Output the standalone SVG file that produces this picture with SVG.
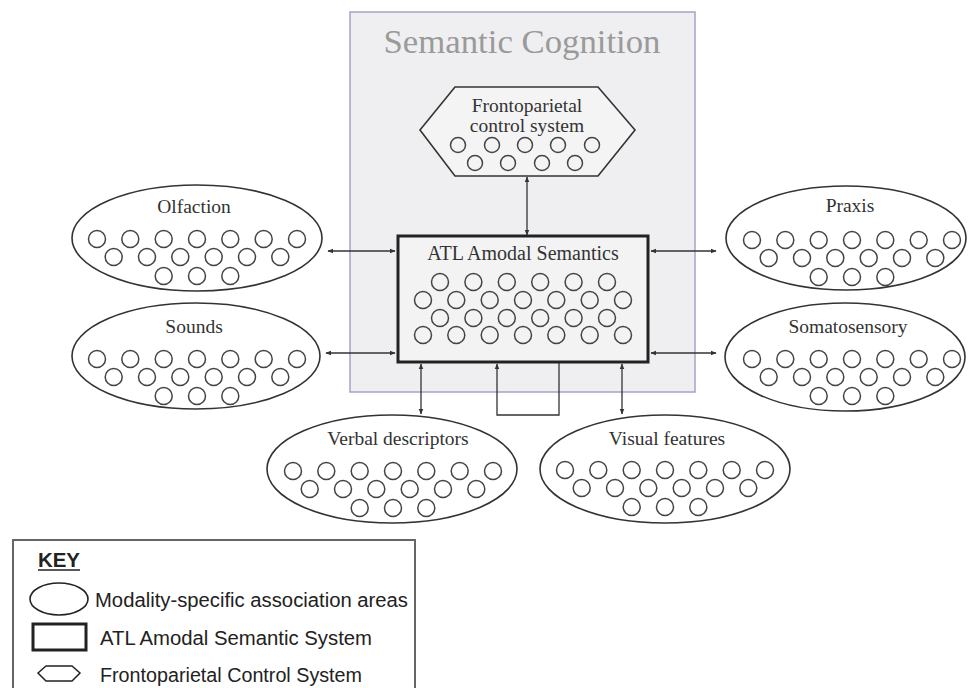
<svg xmlns="http://www.w3.org/2000/svg" width="968" height="688" viewBox="0 0 968 688">
<style>
.serif{font-family:"Liberation Serif","Times New Roman",serif;fill:#333;}
.lbl{font-size:19.5px;text-anchor:middle;}
.sans{font-family:"Liberation Sans",Arial,sans-serif;fill:#222;font-size:20px;}
.area{fill:#fff;stroke:#333;stroke-width:1.6;}
.c{fill:none;stroke:#444;stroke-width:1.5;}
.conn{stroke:#333;stroke-width:1.3;fill:none;}
</style>
<defs>
<marker id="ah" viewBox="0 0 10 10" refX="9" refY="5" markerWidth="6" markerHeight="6" orient="auto-start-reverse" markerUnits="userSpaceOnUse">
<path d="M0,1 L10,5 L0,9 z" fill="#333"/>
</marker>
<g id="pat">
<circle class="c" cx="0" cy="0" r="8.5"/><circle class="c" cx="33.3" cy="0" r="8.5"/><circle class="c" cx="66.7" cy="0" r="8.5"/><circle class="c" cx="100" cy="0" r="8.5"/><circle class="c" cx="133.3" cy="0" r="8.5"/><circle class="c" cx="166.7" cy="0" r="8.5"/><circle class="c" cx="200" cy="0" r="8.5"/>
<circle class="c" cx="16.7" cy="18" r="8.5"/><circle class="c" cx="50" cy="18" r="8.5"/><circle class="c" cx="83.3" cy="18" r="8.5"/><circle class="c" cx="116.7" cy="18" r="8.5"/><circle class="c" cx="150" cy="18" r="8.5"/><circle class="c" cx="183.3" cy="18" r="8.5"/>
<circle class="c" cx="66.7" cy="37" r="8.5"/><circle class="c" cx="100" cy="37" r="8.5"/><circle class="c" cx="133.3" cy="37" r="8.5"/>
</g>
<g id="row6">
<circle class="c" cx="0" cy="0" r="8.5"/><circle class="c" cx="33.4" cy="0" r="8.5"/><circle class="c" cx="66.8" cy="0" r="8.5"/><circle class="c" cx="100.2" cy="0" r="8.5"/><circle class="c" cx="133.6" cy="0" r="8.5"/><circle class="c" cx="167" cy="0" r="8.5"/>
</g>
<g id="row7">
<circle class="c" cx="0" cy="0" r="8.5"/><circle class="c" cx="33.3" cy="0" r="8.5"/><circle class="c" cx="66.7" cy="0" r="8.5"/><circle class="c" cx="100" cy="0" r="8.5"/><circle class="c" cx="133.3" cy="0" r="8.5"/><circle class="c" cx="166.7" cy="0" r="8.5"/><circle class="c" cx="200" cy="0" r="8.5"/>
</g>
</defs>
<rect width="968" height="688" fill="#fff"/>

<g id="semantic-cognition">
<rect x="350" y="12" width="345" height="380" fill="#efeff1" stroke="#a4a4c8" stroke-width="1.5"/>
<text class="serif" x="522" y="53" font-size="34" text-anchor="middle" fill="#9a9a9a" style="fill:#9a9a9a" textLength="277" lengthAdjust="spacingAndGlyphs">Semantic Cognition</text>
</g>

<g id="frontoparietal">
<polygon points="420,130 455,87 598,87 635,130 598,176 455,176" fill="#f4f4f5" stroke="#333" stroke-width="1.6"/>
<text class="serif lbl" x="527" y="112">Frontoparietal</text>
<text class="serif lbl" x="527" y="132">control system</text>
<circle class="c" cx="458" cy="145" r="7.5"/><circle class="c" cx="492" cy="145" r="7.5"/><circle class="c" cx="525" cy="145" r="7.5"/><circle class="c" cx="558" cy="145" r="7.5"/><circle class="c" cx="592" cy="145" r="7.5"/>
<circle class="c" cx="475" cy="163" r="7.5"/><circle class="c" cx="508" cy="163" r="7.5"/><circle class="c" cx="542" cy="163" r="7.5"/><circle class="c" cx="575" cy="163" r="7.5"/>
</g>

<g id="atl">
<rect x="398" y="236" width="250" height="126" fill="#f3f3f4" stroke="#222" stroke-width="3"/>
<text class="serif" x="523" y="260" font-size="20" text-anchor="middle">ATL Amodal Semantics</text>
<use href="#row6" x="440" y="282"/>
<use href="#row7" x="423" y="300"/>
<use href="#row6" x="440" y="318"/>
<use href="#row7" x="423" y="335"/>
</g>

<g id="olfaction">
<ellipse class="area" cx="197" cy="238" rx="125" ry="53"/>
<text class="serif lbl" x="194" y="213">Olfaction</text>
<use href="#pat" x="97" y="239"/>
</g>

<g id="sounds">
<ellipse class="area" cx="196" cy="356" rx="124" ry="53"/>
<text class="serif lbl" x="194" y="333">Sounds</text>
<use href="#pat" x="97" y="359"/>
</g>

<g id="praxis">
<ellipse class="area" cx="846" cy="238" rx="120" ry="52"/>
<text class="serif lbl" x="850" y="212">Praxis</text>
<use href="#pat" x="752" y="240"/>
</g>

<g id="somatosensory">
<ellipse class="area" cx="845" cy="357" rx="120" ry="54"/>
<text class="serif lbl" x="848" y="333">Somatosensory</text>
<use href="#pat" x="752" y="359"/>
</g>

<g id="verbal">
<ellipse class="area" cx="392" cy="469" rx="125" ry="54"/>
<text class="serif lbl" x="398" y="445">Verbal descriptors</text>
<use href="#pat" x="293" y="471"/>
</g>

<g id="visual">
<ellipse class="area" cx="665" cy="469" rx="125" ry="54"/>
<text class="serif lbl" x="667" y="445">Visual features</text>
<use href="#pat" x="565" y="470"/>
</g>

<g id="connectors">
<line class="conn" x1="527" y1="177" x2="527" y2="235" marker-start="url(#ah)" marker-end="url(#ah)"/>
<line class="conn" x1="328" y1="251" x2="395" y2="251" marker-start="url(#ah)" marker-end="url(#ah)"/>
<line class="conn" x1="326" y1="353" x2="395" y2="353" marker-start="url(#ah)" marker-end="url(#ah)"/>
<line class="conn" x1="651" y1="251" x2="716" y2="251" marker-start="url(#ah)" marker-end="url(#ah)"/>
<line class="conn" x1="651" y1="353" x2="716" y2="353" marker-start="url(#ah)" marker-end="url(#ah)"/>
<line class="conn" x1="421" y1="364" x2="421" y2="414" marker-start="url(#ah)" marker-end="url(#ah)"/>
<line class="conn" x1="622" y1="364" x2="622" y2="414" marker-start="url(#ah)" marker-end="url(#ah)"/>
<polyline class="conn" points="559,363 559,415 497,415 497,364" marker-end="url(#ah)"/>
</g>

<g id="key">
<rect x="13" y="540" width="402" height="160" fill="#fff" stroke="#666" stroke-width="2"/>
<text class="sans" x="38" y="567" font-weight="bold" textLength="42" lengthAdjust="spacingAndGlyphs">KEY</text>
<line x1="38" y1="570" x2="80" y2="570" stroke="#222" stroke-width="1.5"/>
<ellipse cx="59" cy="599" rx="29" ry="16" fill="#fff" stroke="#222" stroke-width="1.6"/>
<text class="sans" x="95" y="607" textLength="313" lengthAdjust="spacingAndGlyphs">Modality-specific association areas</text>
<rect x="33" y="624" width="53" height="26" fill="#fff" stroke="#222" stroke-width="3"/>
<text class="sans" x="100" y="645" textLength="272" lengthAdjust="spacingAndGlyphs">ATL Amodal Semantic System</text>
<polygon points="38,673 46,666 72,666 80,673 72,681 46,681" fill="#fff" stroke="#222" stroke-width="1.5"/>
<text class="sans" x="100" y="682" textLength="262" lengthAdjust="spacingAndGlyphs">Frontoparietal Control System</text>
</g>
</svg>
